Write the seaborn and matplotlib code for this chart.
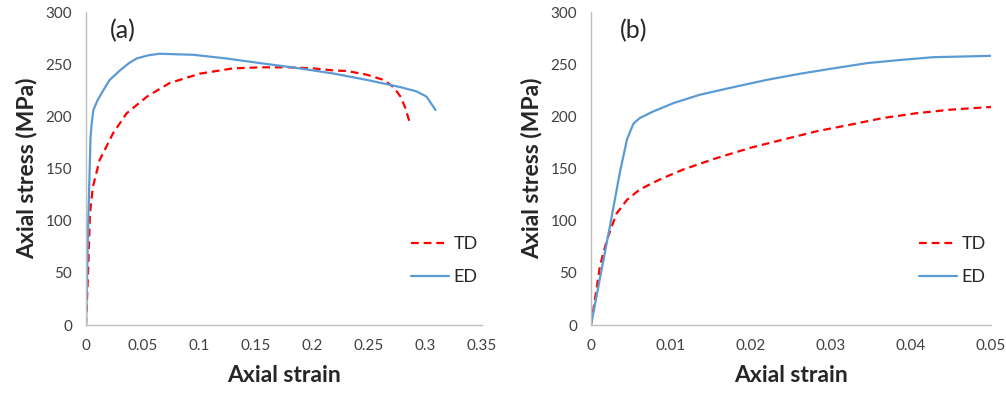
"""
plot.py
Curvas tensão-deformação (TD / ED), dois painéis no estilo Excel.
"""

import matplotlib
matplotlib.use("Agg")
import matplotlib.pyplot as plt
import seaborn as sns
import pandas as pd

# --- dados -----------------------------------------------------------------
# painel (a): curva completa
a_td_strain = [0, 0.002, 0.0035, 0.006, 0.012, 0.024, 0.036, 0.054, 0.074, 0.101,
               0.130, 0.154, 0.18, 0.201, 0.219, 0.2305, 0.248, 0.263, 0.272,
               0.278, 0.282, 0.2865]
a_td_stress = [0, 56, 107, 132, 158, 184, 203, 219, 232, 241,
               246, 247, 247, 246, 244, 243.5, 240, 235, 228,
               219, 209, 193]

a_ed_strain = [0, 0.002, 0.004, 0.005, 0.0065, 0.010, 0.0153, 0.021, 0.030, 0.038,
               0.0448, 0.055, 0.065, 0.080, 0.095, 0.124, 0.154, 0.189, 0.219,
               0.248, 0.278, 0.292, 0.301, 0.306, 0.309]
a_ed_stress = [0, 100, 180, 193, 206, 215, 225, 235, 244, 251,
               255.5, 258.5, 260, 259.5, 259, 255.5, 251, 246, 241,
               235, 228, 224, 219, 211, 206]

# painel (b): zoom no início
b_td_strain = [0, 0.00113, 0.002, 0.0032, 0.0045, 0.0061, 0.0086, 0.0115, 0.0157,
               0.0199, 0.024, 0.0282, 0.0324, 0.0365, 0.0407, 0.0449, 0.05]
b_td_stress = [0, 57, 82, 107, 120, 130, 139.5, 149, 160,
               169.8, 177.7, 185.7, 192, 198.4, 203, 206.4, 209]

b_ed_strain = [0, 0.00237, 0.0036, 0.0045, 0.0053, 0.0061, 0.0078, 0.0103, 0.0136,
               0.0178, 0.022, 0.0261, 0.0303, 0.0345, 0.0386, 0.0428, 0.05]
b_ed_stress = [0, 95, 146, 178, 193, 198.4, 204.8, 212.7, 220.7,
               228, 235, 240.8, 246, 251, 254, 256.7, 258]

a_xticks = [0, 0.05, 0.1, 0.15, 0.2, 0.25, 0.3, 0.35]
a_xlabels = ["0", "0.05", "0.1", "0.15", "0.2", "0.25", "0.3", "0.35"]
b_xticks = [0, 0.01, 0.02, 0.03, 0.04, 0.05]
b_xlabels = ["0", "0.01", "0.02", "0.03", "0.04", "0.05"]
yticks = [0, 50, 100, 150, 200, 250, 300]

CORES = {"TD": "#FF0000", "ED": "#5B9BD5", "eixo": "#BFBFBF", "tick": "#404040"}

sns.set_style("white")
plt.rcParams["font.family"] = ["Lato", "DejaVu Sans"]


def monta_df(s_td, y_td, s_ed, y_ed):
    td = pd.DataFrame({"strain": s_td, "stress": y_td, "serie": "TD"})
    ed = pd.DataFrame({"strain": s_ed, "stress": y_ed, "serie": "ED"})
    return pd.concat([td, ed], ignore_index=True)


fig = plt.figure(figsize=(10.06, 3.94), dpi=100)
ax_a = fig.add_axes([0.0855, 0.175, 0.3935, 0.7945])
ax_b = fig.add_axes([0.5875, 0.175, 0.3975, 0.7945])

paineis = [
    (ax_a, monta_df(a_td_strain, a_td_stress, a_ed_strain, a_ed_stress),
     a_xticks, a_xlabels, 0.35, "(a)", 0.093),
    (ax_b, monta_df(b_td_strain, b_td_stress, b_ed_strain, b_ed_stress),
     b_xticks, b_xlabels, 0.05, "(b)", 0.107),
]

for ax, df, xt, xl, xmax, letra, xl_pos in paineis:
    sns.lineplot(data=df, x="strain", y="stress", hue="serie", style="serie",
                 palette={"TD": CORES["TD"], "ED": CORES["ED"]},
                 dashes={"TD": (3.5, 2.2), "ED": ""}, sort=False, estimator=None,
                 linewidth=1.6, ax=ax)
    ax.set_xlim(0, xmax)
    ax.set_ylim(0, 300)
    ax.set_xticks(xt)
    ax.set_xticklabels(xl)
    ax.set_yticks(yticks)
    ax.tick_params(length=0, labelsize=11, colors=CORES["tick"], pad=10)
    for lado in ["top", "right"]:
        ax.spines[lado].set_visible(False)
    for lado in ["left", "bottom"]:
        ax.spines[lado].set_color(CORES["eixo"])
        ax.spines[lado].set_linewidth(1.0)
    ax.set_xlabel("Axial strain", fontsize=16.5, fontweight="bold", labelpad=9)
    ax.set_ylabel("Axial stress (MPa)", fontsize=16.5, fontweight="bold", labelpad=6)
    ax.text(xl_pos, 0.94, letra, transform=ax.transAxes, fontsize=18,
            ha="center", va="center")
    ax.legend(loc="lower left", bbox_to_anchor=(0.78, 0.075), frameon=False,
              fontsize=13, handlelength=2.1, labelspacing=0.95,
              handletextpad=0.25, title=None)

plt.savefig("out.png", dpi=100)
plt.close()
